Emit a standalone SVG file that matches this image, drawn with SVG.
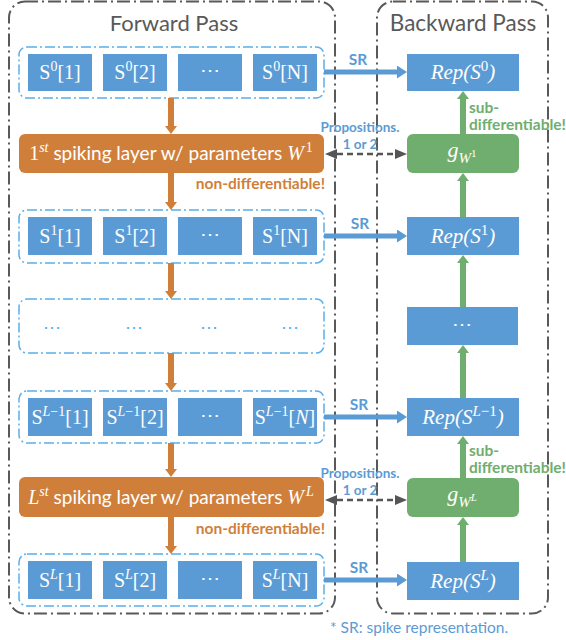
<svg xmlns="http://www.w3.org/2000/svg" width="566" height="640" viewBox="0 0 566 640">
  <style>
    .frame { fill: none; stroke: #595959; stroke-width: 2; stroke-dasharray: 13 4 2 4; }
    .group { fill: #fff; stroke: #5AAFEA; stroke-width: 1.5; stroke-dasharray: 10 3 2 3; }
    .cell { fill: #5B9BD5; }
    .layer { fill: #D07F3B; }
    .grad { fill: #6FAE6E; }
    .title { font-family: Lato, "Open Sans", sans-serif; font-size: 22px; fill: #595959; text-anchor: middle; }
    .math { font-family: "Liberation Serif", "DejaVu Serif", serif; font-size: 20px; fill: #fff; text-anchor: middle; }
    .rep { font-size: 21px; }
    .it { font-style: italic; }
    .ltxt { font-family: Lato, "Open Sans", sans-serif; font-size: 19px; fill: #fff; text-anchor: middle; }
    .serif { font-family: "Liberation Serif", "DejaVu Serif", serif; }
    .lbl { font-family: Lato, "Open Sans", sans-serif; font-weight: bold; font-size: 15.5px; }
    .small { font-size: 13.5px; }
    .blue { fill: #5B9BD5; }
    .orange { fill: #D07F3B; }
    .green { fill: #6FAE6E; }
    .dots { font-family: "Liberation Serif", serif; font-size: 18px; fill: #5AAFEA; text-anchor: middle; }
    .fwd { stroke: #D07F3B; stroke-width: 6; fill: none; }
    .bwd { stroke: #6FAE6E; stroke-width: 6; fill: none; }
    .sr { stroke: #5B9BD5; stroke-width: 5; fill: none; }
    .prop { stroke: #555; stroke-width: 2.5; stroke-dasharray: 6 4; fill: none; }
  </style>
  <defs>
    <marker id="headOrange" viewBox="0 0 8 12" refX="0" refY="6" markerWidth="8" markerHeight="12" markerUnits="userSpaceOnUse" orient="auto">
      <path d="M0,0 L8,6 L0,12 z" fill="#D07F3B"/>
    </marker>
    <marker id="headGreen" viewBox="0 0 8 12" refX="0" refY="6" markerWidth="8" markerHeight="12" markerUnits="userSpaceOnUse" orient="auto">
      <path d="M0,0 L8,6 L0,12 z" fill="#6FAE6E"/>
    </marker>
    <marker id="headBlue" viewBox="0 0 10 13" refX="0" refY="6.5" markerWidth="10" markerHeight="13" markerUnits="userSpaceOnUse" orient="auto">
      <path d="M0,0 L10,6.5 L0,13 z" fill="#5B9BD5"/>
    </marker>
    <marker id="headGray" viewBox="0 0 12 10" refX="0" refY="5" markerWidth="12" markerHeight="10" markerUnits="userSpaceOnUse" orient="auto-start-reverse">
      <path d="M0,0 L12,5 L0,10 z" fill="#555"/>
    </marker>
  </defs>

  <!-- pass frames -->
  <g id="forward-pass">
    <rect class="frame" x="9" y="1.5" width="326" height="612" rx="16"/>
    <text class="title" x="174" y="31">Forward Pass</text>
  </g>
  <g id="backward-pass">
    <rect class="frame" x="377" y="1.5" width="171" height="612" rx="16"/>
    <text class="title" x="463" y="31" style="font-size:22.5px">Backward Pass</text>
  </g>

  <!-- spike trains of layer 0 -->
  <g id="s0">
    <rect class="group" x="19" y="47" width="305" height="51" rx="8"/>
    <rect class="cell" x="28" y="54" width="64" height="37"/>
    <rect class="cell" x="103" y="54" width="64" height="37"/>
    <rect class="cell" x="178" y="54" width="64" height="37"/>
    <rect class="cell" x="253" y="54" width="64" height="37"/>
    <text class="math" x="60" y="79">S<tspan font-size="14" dy="-8">0</tspan><tspan dy="8">[1]</tspan></text>
    <text class="math" x="135" y="79">S<tspan font-size="14" dy="-8">0</tspan><tspan dy="8">[2]</tspan></text>
    <text class="math" x="210" y="77">⋯</text>
    <text class="math" x="285" y="79">S<tspan font-size="14" dy="-8">0</tspan><tspan dy="8">[N]</tspan></text>
  </g>

  <g id="layer1">
    <rect class="layer" x="19" y="134" width="305" height="39" rx="6"/>
    <text class="ltxt" x="171" y="160"><tspan class="serif" font-size="20">1</tspan><tspan class="serif it" font-size="14" dy="-8">st</tspan><tspan dy="8"> spiking layer w/ parameters </tspan><tspan class="serif it" font-size="20">W</tspan><tspan class="serif" font-size="14" dx="2" dy="-8">1</tspan></text>
    <text class="lbl orange" x="325" y="189" text-anchor="end">non-differentiable!</text>
  </g>

  <g id="s1">
    <rect class="group" x="19" y="210" width="305" height="53" rx="8"/>
    <rect class="cell" x="28" y="217" width="64" height="38"/>
    <rect class="cell" x="103" y="217" width="64" height="38"/>
    <rect class="cell" x="178" y="217" width="64" height="38"/>
    <rect class="cell" x="253" y="217" width="64" height="38"/>
    <text class="math" x="60" y="243">S<tspan font-size="14" dy="-8">1</tspan><tspan dy="8">[1]</tspan></text>
    <text class="math" x="135" y="243">S<tspan font-size="14" dy="-8">1</tspan><tspan dy="8">[2]</tspan></text>
    <text class="math" x="210" y="241">⋯</text>
    <text class="math" x="285" y="243">S<tspan font-size="14" dy="-8">1</tspan><tspan dy="8">[N]</tspan></text>
  </g>

  <g id="s-mid">
    <rect class="group" x="19" y="299" width="305" height="54" rx="8"/>
    <text class="dots" x="52" y="333">⋯</text>
    <text class="dots" x="134" y="333">⋯</text>
    <text class="dots" x="209" y="333">⋯</text>
    <text class="dots" x="290" y="333">⋯</text>
  </g>

  <g id="s-prev">
    <rect class="group" x="19" y="391" width="305" height="52" rx="8"/>
    <rect class="cell" x="28" y="398" width="64" height="38"/>
    <rect class="cell" x="103" y="398" width="64" height="38"/>
    <rect class="cell" x="178" y="398" width="64" height="38"/>
    <rect class="cell" x="253" y="398" width="64" height="38"/>
    <text class="math" x="60" y="424">S<tspan font-size="14" dy="-8" class="it">L</tspan><tspan font-size="14">−1</tspan><tspan dy="8">[1]</tspan></text>
    <text class="math" x="135" y="424">S<tspan font-size="14" dy="-8" class="it">L</tspan><tspan font-size="14">−1</tspan><tspan dy="8">[2]</tspan></text>
    <text class="math" x="210" y="422">⋯</text>
    <text class="math" x="285" y="424">S<tspan font-size="14" dy="-8" class="it">L</tspan><tspan font-size="14">−1</tspan><tspan dy="8">[</tspan><tspan class="it">N</tspan>]</text>
  </g>

  <g id="layerL">
    <rect class="layer" x="19" y="477" width="305" height="40" rx="6"/>
    <text class="ltxt" x="171" y="504"><tspan class="serif it" font-size="20">L</tspan><tspan class="serif it" font-size="14" dy="-8">st</tspan><tspan dy="8"> spiking layer w/ parameters </tspan><tspan class="serif it" font-size="20">W</tspan><tspan class="serif it" font-size="14" dx="2" dy="-8">L</tspan></text>
    <text class="lbl orange" x="325" y="534" text-anchor="end">non-differentiable!</text>
  </g>

  <g id="sL">
    <rect class="group" x="19" y="554" width="305" height="52" rx="8"/>
    <rect class="cell" x="28" y="561" width="64" height="38"/>
    <rect class="cell" x="103" y="561" width="64" height="38"/>
    <rect class="cell" x="178" y="561" width="64" height="38"/>
    <rect class="cell" x="253" y="561" width="64" height="38"/>
    <text class="math" x="60" y="587">S<tspan font-size="14" dy="-8" class="it">L</tspan><tspan dy="8">[1]</tspan></text>
    <text class="math" x="135" y="587">S<tspan font-size="14" dy="-8" class="it">L</tspan><tspan dy="8">[2]</tspan></text>
    <text class="math" x="210" y="585">⋯</text>
    <text class="math" x="285" y="587">S<tspan font-size="14" dy="-8" class="it">L</tspan><tspan dy="8">[N]</tspan></text>
  </g>

  <!-- backward nodes -->
  <g id="rep0">
    <rect class="cell" x="407" y="54" width="112" height="37"/>
    <text class="math rep it" x="463" y="79">Rep(S<tspan font-size="15" font-style="normal" dy="-8">0</tspan><tspan dy="8">)</tspan></text>
  </g>
  <g id="g1">
    <rect class="grad" x="407" y="134" width="112" height="39" rx="6"/>
    <text class="math it" x="462" y="157" style="font-size:22px">g<tspan font-size="15" dy="6">W</tspan><tspan font-size="11" font-style="normal" dy="-6">1</tspan></text>
  </g>
  <g id="rep1">
    <rect class="cell" x="407" y="217" width="112" height="38"/>
    <text class="math rep it" x="463" y="243">Rep(S<tspan font-size="15" font-style="normal" dy="-8">1</tspan><tspan dy="8">)</tspan></text>
  </g>
  <g id="rep-mid">
    <rect class="cell" x="407" y="307" width="111" height="38"/>
    <text class="math" x="462" y="331">⋯</text>
  </g>
  <g id="rep-prev">
    <rect class="cell" x="407" y="398" width="112" height="38"/>
    <text class="math rep it" x="463" y="424">Rep(S<tspan font-size="15" dy="-8">L</tspan><tspan font-size="15" font-style="normal">−1</tspan><tspan dy="8">)</tspan></text>
  </g>
  <g id="gL">
    <rect class="grad" x="407" y="478" width="112" height="39" rx="6"/>
    <text class="math it" x="462" y="501" style="font-size:22px">g<tspan font-size="15" dy="6">W</tspan><tspan font-size="11" dy="-6">L</tspan></text>
  </g>
  <g id="repL">
    <rect class="cell" x="407" y="562" width="112" height="38"/>
    <text class="math rep it" x="463" y="588">Rep(S<tspan font-size="15" dy="-8">L</tspan><tspan dy="8">)</tspan></text>
  </g>

  <!-- connectors -->
  <g id="connectors">
    <line class="fwd" x1="171" y1="98" x2="171" y2="126" marker-end="url(#headOrange)"/>
    <line class="fwd" x1="171" y1="173" x2="171" y2="202" marker-end="url(#headOrange)"/>
    <line class="fwd" x1="171" y1="263" x2="171" y2="291" marker-end="url(#headOrange)"/>
    <line class="fwd" x1="171" y1="353" x2="171" y2="383" marker-end="url(#headOrange)"/>
    <line class="fwd" x1="171" y1="443" x2="171" y2="469" marker-end="url(#headOrange)"/>
    <line class="fwd" x1="171" y1="517" x2="171" y2="546" marker-end="url(#headOrange)"/>

    <line class="bwd" x1="463" y1="134" x2="463" y2="99" marker-end="url(#headGreen)"/>
    <line class="bwd" x1="463" y1="217" x2="463" y2="181" marker-end="url(#headGreen)"/>
    <line class="bwd" x1="463" y1="307" x2="463" y2="263" marker-end="url(#headGreen)"/>
    <line class="bwd" x1="463" y1="398" x2="463" y2="353" marker-end="url(#headGreen)"/>
    <line class="bwd" x1="463" y1="478" x2="463" y2="444" marker-end="url(#headGreen)"/>
    <line class="bwd" x1="463" y1="562" x2="463" y2="525" marker-end="url(#headGreen)"/>

    <line class="sr" x1="324" y1="72" x2="397" y2="72" marker-end="url(#headBlue)"/>
    <line class="sr" x1="324" y1="236" x2="397" y2="236" marker-end="url(#headBlue)"/>
    <line class="sr" x1="324" y1="417" x2="397" y2="417" marker-end="url(#headBlue)"/>
    <line class="sr" x1="324" y1="580" x2="397" y2="580" marker-end="url(#headBlue)"/>
    <text class="lbl blue" x="358" y="65" text-anchor="middle">SR</text>
    <text class="lbl blue" x="360" y="229" text-anchor="middle">SR</text>
    <text class="lbl blue" x="359" y="410" text-anchor="middle">SR</text>
    <text class="lbl blue" x="359" y="573" text-anchor="middle">SR</text>

    <line class="prop" x1="337" y1="154" x2="395" y2="154" marker-start="url(#headGray)" marker-end="url(#headGray)"/>
    <line class="prop" x1="337" y1="500" x2="395" y2="500" marker-start="url(#headGray)" marker-end="url(#headGray)"/>
    <text class="lbl small blue" x="360" y="132" text-anchor="middle">Propositions.</text>
    <text class="lbl small blue" x="360" y="149" text-anchor="middle">1 or 2</text>
    <text class="lbl small blue" x="360" y="478" text-anchor="middle">Propositions.</text>
    <text class="lbl small blue" x="360" y="495" text-anchor="middle">1 or 2</text>

    <text class="lbl green" x="469" y="113">sub-</text>
    <text class="lbl green" x="469" y="130">differentiable!</text>
    <text class="lbl green" x="469" y="456">sub-</text>
    <text class="lbl green" x="469" y="473">differentiable!</text>
  </g>

  <text x="330" y="633" font-family="Lato, 'Open Sans', sans-serif" font-size="15.5" fill="#5B9BD5">* SR: spike representation.</text>
</svg>
